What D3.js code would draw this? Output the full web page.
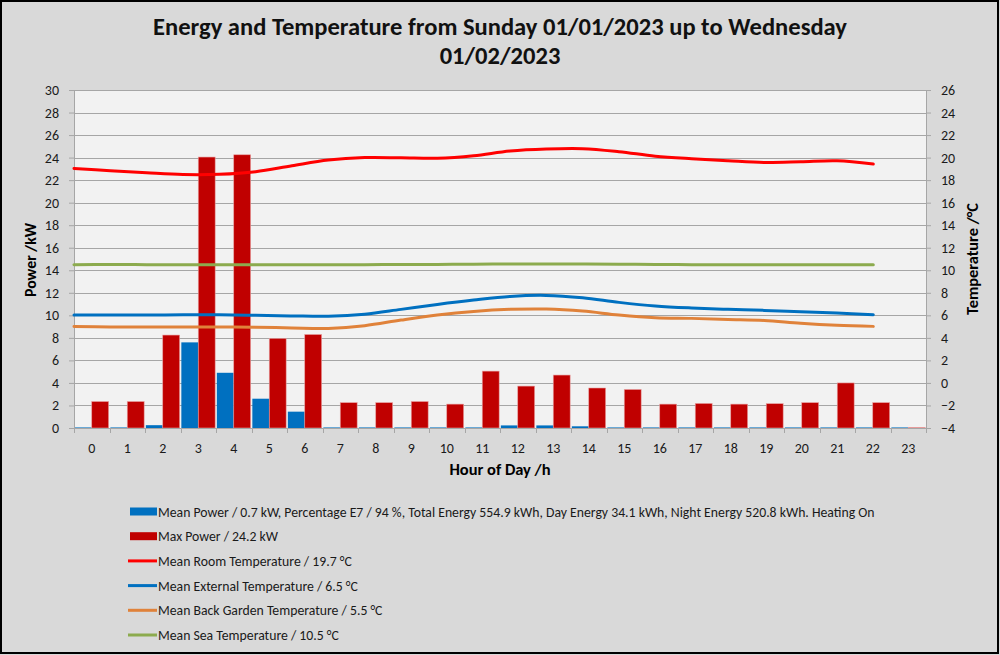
<!DOCTYPE html>
<html><head><meta charset="utf-8">
<script src="https://cdn.jsdelivr.net/npm/d3@7"></script>
<style>
html,body{margin:0;padding:0;background:#d9d9d9;}
svg{display:block;font-family:Carlito,Lato,"Open Sans",sans-serif;}
</style></head>
<body><svg id="c" width="1000" height="655"></svg>
<script>
const hours = ["0","1","2","3","4","5","6","7","8","9","10","11","12","13","14","15","16","17","18","19","20","21","22","23"];
const meanPower = [0.05,0.05,0.25,7.6,4.9,2.6,1.45,0.05,0.05,0.05,0.05,0.05,0.23,0.23,0.15,0.05,0.05,0.05,0.05,0.05,0.05,0.05,0.05,0.05];
const maxPower = [2.35,2.35,8.25,24.05,24.25,7.95,8.3,2.25,2.25,2.35,2.12,5.05,3.72,4.7,3.55,3.42,2.12,2.18,2.12,2.16,2.25,4.0,2.25,0.05];
const lineHours = ["0","1","2","3","4","5","6","7","8","9","10","11","12","13","14","15","16","17","18","19","20","21","22"];
const roomTemp = [19.04,18.83,18.65,18.5,18.52,18.75,19.28,19.78,20.0,19.98,19.94,20.16,20.58,20.76,20.79,20.52,20.13,19.9,19.72,19.57,19.63,19.72,19.43];
const externalTemp = [6.03,6.03,6.03,6.05,6.05,6.0,5.95,5.92,6.1,6.53,6.97,7.36,7.68,7.77,7.56,7.15,6.83,6.65,6.53,6.44,6.32,6.2,6.05];
const gardenTemp = [5.0,4.97,4.96,4.96,4.97,4.95,4.88,4.84,5.08,5.58,6.03,6.35,6.53,6.56,6.38,6.03,5.79,5.73,5.64,5.55,5.29,5.11,5.02];
const seaTemp = [10.5,10.52,10.5,10.5,10.5,10.5,10.5,10.5,10.5,10.52,10.52,10.54,10.55,10.55,10.55,10.54,10.52,10.5,10.5,10.5,10.5,10.5,10.5];
const powerTicks = [0,2,4,6,8,10,12,14,16,18,20,22,24,26,28,30];
const tempTicks = [-4,-2,0,2,4,6,8,10,12,14,16,18,20,22,24,26];
const titleLines = ["Energy and Temperature from Sunday 01/01/2023 up to Wednesday","01/02/2023"];
const legendLabels = [
  "Mean Power / 0.7 kW, Percentage E7 / 94 %, Total Energy 554.9 kWh, Day Energy 34.1 kWh, Night Energy 520.8 kWh. Heating On",
  "Max Power / 24.2 kW",
  "Mean Room Temperature / 19.7 °C",
  "Mean External Temperature / 6.5 °C",
  "Mean Back Garden Temperature / 5.5 °C",
  "Mean Sea Temperature / 10.5 °C"];
const legendKinds = ["rect","rect","line","line","line","line"];
const colors = {mean:"#0070c0", max:"#c00000", room:"#ff0000", ext:"#0070c0", garden:"#e0823a", sea:"#8cab4e"};
const legendColors = [colors.mean, colors.max, colors.room, colors.ext, colors.garden, colors.sea];

const svg = d3.select("#c");
const L=74, R=926, T=90, B=428;

function fit(sel, target){
  const n = sel.node(); let fs = parseFloat(sel.attr("font-size"));
  for(let i=0;i<3;i++){ const w=n.getComputedTextLength(); fs = fs*target/w; sel.attr("font-size", fs); }
  return fs;
}

svg.append("rect").attr("x",0).attr("y",0).attr("width",1000).attr("height",655).attr("fill","#d9d9d9");
svg.append("rect").attr("x",1).attr("y",1).attr("width",997).attr("height",652).attr("fill","none").attr("stroke","#000").attr("stroke-width",2);

const x = d3.scaleBand().domain(hours).range([L,R]).padding(0);
const xs = d3.scaleBand().domain(["mean","max"]).range([0,x.bandwidth()]).paddingOuter(0.05).paddingInner(0);
const xl2 = d3.scalePoint().domain(lineHours).range([L,873.3]);
const yP = d3.scaleLinear().domain([0,30]).range([B,T]);
const yT = d3.scaleLinear().domain([-4,26]).range([B,T]);

svg.append("rect").attr("x",L).attr("y",T).attr("width",R-L).attr("height",B-T).attr("fill","#f2f2f2");
svg.append("g").selectAll("line").data(powerTicks).join("line")
  .attr("x1",L).attr("x2",R).attr("y1",d=>Math.round(yP(d))+0.5).attr("y2",d=>Math.round(yP(d))+0.5)
  .attr("stroke","#a6a6a6").attr("stroke-width",1);

// bars
svg.append("g").selectAll("rect").data(hours).join("rect")
  .attr("x",(d)=>x(d)+xs("mean")).attr("width",xs.bandwidth())
  .attr("y",(d,i)=>yP(meanPower[i])).attr("height",(d,i)=>B-yP(meanPower[i]))
  .attr("fill",colors.mean);
svg.append("g").selectAll("rect").data(hours).join("rect")
  .attr("x",(d)=>x(d)+xs("max")).attr("width",xs.bandwidth())
  .attr("y",(d,i)=>yP(maxPower[i])).attr("height",(d,i)=>B-yP(maxPower[i]))
  .attr("fill",colors.max).attr("stroke","#e8a0a0").attr("stroke-width",0.6);

// axes
const axL = svg.append("g").attr("transform",`translate(${L},0)`)
  .call(d3.axisLeft(yP).tickValues(powerTicks).tickSize(5).tickPadding(10));
const axR = svg.append("g").attr("transform",`translate(${R},0)`)
  .call(d3.axisRight(yT).tickValues(tempTicks).tickSize(5).tickPadding(10));
const axB = svg.append("g").attr("transform",`translate(0,${B})`)
  .call(d3.axisBottom(x).tickSize(0).tickPadding(15));
[axL,axR,axB].forEach(g=>{
  g.selectAll("path.domain").attr("stroke","#a6a6a6");
  g.selectAll(".tick line").attr("stroke","#a6a6a6");
  g.selectAll("text").attr("font-size",14).attr("fill","#1a1a1a").attr("font-family","Carlito,Lato,sans-serif");
});
// x boundary ticks
const bounds = hours.map(h=>x(h)).concat([R]);
svg.append("g").selectAll("line").data(bounds).join("line")
  .attr("x1",d=>Math.round(d)+0.5).attr("x2",d=>Math.round(d)+0.5).attr("y1",B).attr("y2",B+5)
  .attr("stroke","#a6a6a6");

// lines
function drawLine(vals,color,w){
  const line = d3.line().x((d,i)=>xl2(lineHours[i])).y(d=>yT(d)).curve(d3.curveCatmullRom.alpha(0));
  svg.append("path").attr("d",line(vals)).attr("fill","none").attr("stroke",color).attr("stroke-width",w).attr("stroke-linecap","round");
}
drawLine(seaTemp,colors.sea,3);
drawLine(gardenTemp,colors.garden,3);
drawLine(externalTemp,colors.ext,3);
drawLine(roomTemp,colors.room,3);

// titles
const t1 = svg.append("text").attr("x",500).attr("y",35).attr("text-anchor","middle").attr("font-weight","bold").attr("font-size",22).attr("fill","#111").text(titleLines[0]);
const fsT = fit(t1,694);
svg.append("text").attr("x",500).attr("y",64).attr("text-anchor","middle").attr("font-weight","bold").attr("font-size",fsT).attr("fill","#111").text(titleLines[1]);

const yl = svg.append("text").attr("transform","translate(36,260) rotate(-90)").attr("text-anchor","middle").attr("font-weight","bold").attr("font-size",14).text("Power /kW");
fit(yl,74);
const yr = svg.append("text").attr("transform","translate(978,259) rotate(-90)").attr("text-anchor","middle").attr("font-weight","bold").attr("font-size",14).text("Temperature /°C");
fit(yr,112);
const xl = svg.append("text").attr("x",500).attr("y",475).attr("text-anchor","middle").attr("font-weight","bold").attr("font-size",14).text("Hour of Day /h");
fit(xl,101);

// legend
const lg = svg.append("g");
const rows = lg.selectAll("g").data(legendLabels).join("g")
  .attr("transform",(d,i)=>`translate(130,${511.5+i*24.7})`);
rows.each(function(d,i){
  const g = d3.select(this);
  if(legendKinds[i]==="rect") g.append("rect").attr("x",0).attr("y",-4).attr("width",27).attr("height",8).attr("fill",legendColors[i]);
  else g.append("line").attr("x1",-2).attr("x2",27).attr("y1",0).attr("y2",0).attr("stroke",legendColors[i]).attr("stroke-width",3);
});
const ltexts = rows.append("text").attr("x",28).attr("y",5).attr("font-size",13).attr("fill","#1a1a1a").text(d=>d);
const fsL = fit(d3.select(ltexts.nodes()[0]),717);
ltexts.attr("font-size",fsL);
</script></body></html>
